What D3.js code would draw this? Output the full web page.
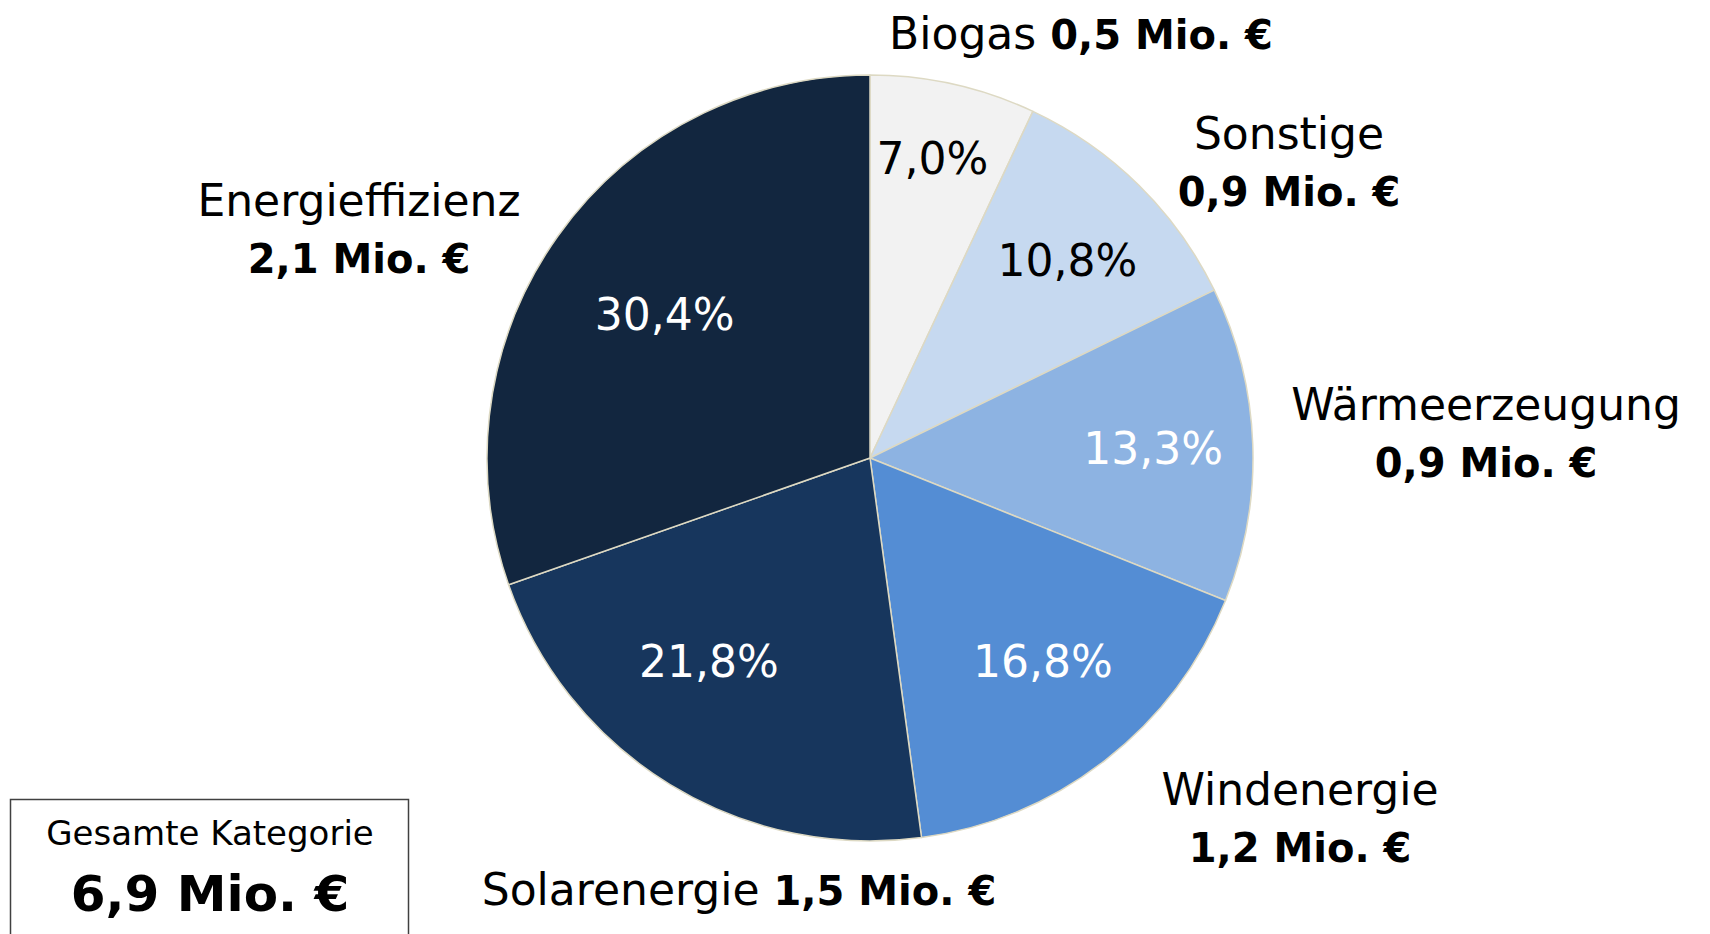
<!DOCTYPE html>
<html>
<head>
<meta charset="utf-8">
<script src="https://cdn.jsdelivr.net/npm/d3@7"></script>
<style>
  body { margin: 0; background: #fff; }
  svg text { font-family: "DejaVu Sans", sans-serif; }
</style>
</head>
<body>
<div id="chart"></div>
<script>
const WIDTH = 1710;
const HEIGHT = 934;
const CENTER = {x: 870, y: 458};
const RADIUS = 383;

// categories clockwise from 12 o'clock
const CATEGORIES = ["Biogas", "Sonstige", "Wärmeerzeugung", "Windenergie", "Solarenergie", "Energieffizienz"];
const SHARES = [7.0, 10.8, 13.3, 16.8, 21.8, 30.4];
const AMOUNTS = ["0,5", "0,9", "0,9", "1,2", "1,5", "2,1"];
const TOTAL_LABEL = "Gesamte Kategorie";
const TOTAL_AMOUNT = "6,9";

const COLOR = d3.scaleOrdinal()
        .domain(CATEGORIES)
        .range(["#f2f2f2", "#c6d9f0", "#8db3e2", "#548dd4", "#17365d", "#12263f"]);

const PCT_COLOR = {"Biogas": "#000", "Sonstige": "#000"};

// small nudges so percent labels land where the original put them
const PCT_OFFSET = {
    "Biogas":         [-2, -11],
    "Sonstige":       [-5, 8],
    "Wärmeerzeugung": [0, 0],
    "Windenergie":    [3, -15],
    "Solarenergie":   [-22, -24],
    "Energieffizienz":[-2, 0]
};

// where the name labels sit (text anchor point, relative to the svg)
const NAME_LAYOUT = {
    "Biogas":         {x: 1081, y: 49,  inline: true},
    "Sonstige":       {x: 1289, y: 149},
    "Wärmeerzeugung": {x: 1486, y: 420},
    "Windenergie":    {x: 1300, y: 805},
    "Solarenergie":   {x: 739,  y: 905, inline: true},
    "Energieffizienz":{x: 359,  y: 216}
};

const data = CATEGORIES.map((c, i) => ({name: c, share: SHARES[i], amount: AMOUNTS[i]}));

const FRAME = d3.select("#chart")
                .append("svg")
                    .attr("width", WIDTH)
                    .attr("height", HEIGHT);

const pie = d3.pie()
        .sort(null)
        .value((d) => d.share);

const arc = d3.arc()
        .innerRadius(0)
        .outerRadius(RADIUS);

const arcs = pie(data);

const G = FRAME.append("g")
        .attr("transform", "translate(" + CENTER.x + "," + CENTER.y + ")");

G.selectAll(".slice")
    .data(arcs)
    .enter()
    .append("path")
        .attr("class", "slice")
        .attr("d", arc)
        .attr("fill", (d) => COLOR(d.data.name))
        .attr("stroke", "#ddd9c3")
        .attr("stroke-width", 1.5)
        .attr("stroke-linejoin", "round");

// percent labels, smaller slices pushed further out
G.selectAll(".pct")
    .data(arcs)
    .enter()
    .append("text")
        .attr("class", "pct")
        .attr("transform", (d) => {
            let r = 310 - 2 * d.data.share;
            let a = (d.startAngle + d.endAngle) / 2;
            let off = PCT_OFFSET[d.data.name];
            return "translate(" + (Math.sin(a) * r + off[0]) + "," + (-Math.cos(a) * r + off[1]) + ")";
        })
        .attr("text-anchor", "middle")
        .attr("dy", "0.36em")
        .attr("font-size", "44px")
        .attr("fill", (d) => PCT_COLOR[d.data.name] || "#fff")
        .text((d) => d3.format(".1f")(d.data.share).replace(".", ",") + "%");

// name + amount labels
data.forEach((d) => {
    let pos = NAME_LAYOUT[d.name];
    let t = FRAME.append("text")
        .attr("x", pos.x)
        .attr("y", pos.y)
        .attr("text-anchor", "middle")
        .attr("font-size", "44px")
        .attr("fill", "#000");
    if (pos.inline) {
        t.append("tspan").text(d.name + " ");
        t.append("tspan").attr("font-weight", "bold").attr("font-size", "40px").text(d.amount + " Mio. €");
    } else {
        t.append("tspan").text(d.name);
        t.append("tspan")
            .attr("x", pos.x)
            .attr("dy", 57)
            .attr("font-weight", "bold")
            .attr("font-size", "40px")
            .text(d.amount + " Mio. €");
    }
});

// total box
FRAME.append("rect")
    .attr("x", 10.5)
    .attr("y", 799.5)
    .attr("width", 398)
    .attr("height", 160)
    .attr("fill", "none")
    .attr("stroke", "#404040")
    .attr("stroke-width", 1.5);

FRAME.append("text")
    .attr("x", 210)
    .attr("y", 845)
    .attr("text-anchor", "middle")
    .attr("font-size", "34px")
    .text(TOTAL_LABEL);

FRAME.append("text")
    .attr("x", 210)
    .attr("y", 911)
    .attr("text-anchor", "middle")
    .attr("font-size", "50px")
    .attr("font-weight", "bold")
    .text(TOTAL_AMOUNT + " Mio. €");
</script>
</body>
</html>
